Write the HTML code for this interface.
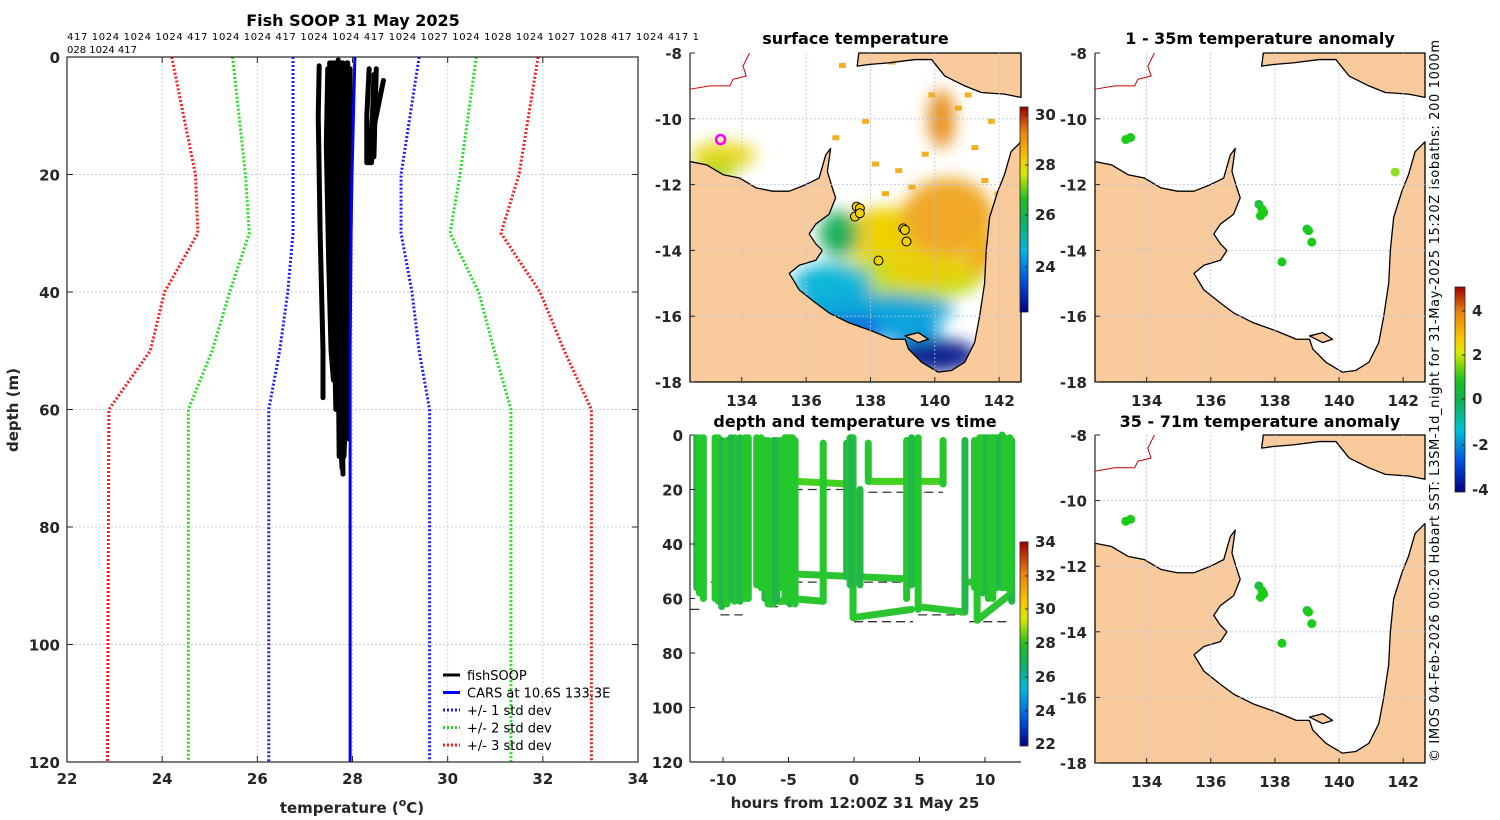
<!DOCTYPE html>
<html><head><meta charset="utf-8"><style>
html,body{margin:0;padding:0;background:#fff}
svg{display:block;font-family:"DejaVu Sans","Liberation Sans",sans-serif}
.tk{font-size:15px;font-weight:bold;fill:#262626}
.ttl{font-size:16px;font-weight:bold;fill:#000}
</style></head><body>
<svg id="fig" width="1500" height="820" viewBox="0 0 1500 820" xmlns="http://www.w3.org/2000/svg">
<defs>
<filter id="blur" x="-50%" y="-50%" width="200%" height="200%"><feGaussianBlur stdDeviation="8"/></filter>
<linearGradient id="cbSST" x1="0" y1="1" x2="0" y2="0">
<stop offset="0" stop-color="#000080"/><stop offset="0.15" stop-color="#0050e0"/><stop offset="0.3" stop-color="#00b8e0"/><stop offset="0.45" stop-color="#10b060"/><stop offset="0.55" stop-color="#20c020"/><stop offset="0.68" stop-color="#d8e800"/><stop offset="0.75" stop-color="#f8c800"/><stop offset="0.88" stop-color="#e88010"/><stop offset="1" stop-color="#a00000"/></linearGradient>
<linearGradient id="cbAn" x1="0" y1="1" x2="0" y2="0">
<stop offset="0" stop-color="#000080"/><stop offset="0.15" stop-color="#0050e0"/><stop offset="0.3" stop-color="#00c0d0"/><stop offset="0.45" stop-color="#10b050"/><stop offset="0.55" stop-color="#20c020"/><stop offset="0.68" stop-color="#d8e800"/><stop offset="0.75" stop-color="#f8c800"/><stop offset="0.88" stop-color="#e88010"/><stop offset="1" stop-color="#a00000"/></linearGradient>
<linearGradient id="cbT" x1="0" y1="1" x2="0" y2="0">
<stop offset="0" stop-color="#000080"/><stop offset="0.12" stop-color="#0050e0"/><stop offset="0.28" stop-color="#00b8e0"/><stop offset="0.4" stop-color="#10b060"/><stop offset="0.5" stop-color="#20c020"/><stop offset="0.62" stop-color="#d8e800"/><stop offset="0.7" stop-color="#f8c800"/><stop offset="0.85" stop-color="#e88010"/><stop offset="1" stop-color="#a00000"/></linearGradient>
<clipPath id="clipS"><rect x="690" y="53" width="331" height="329"/></clipPath>
</defs>
<g id="root"></g>
</svg>
<script>
// ---------- left profile chart data ----------
const depthLevels = [0, 20, 30, 40, 50, 60, 120];
const minus3 = [24.2, 24.7, 24.75, 24.05, 23.75, 22.88, 22.85];
const minus2 = [25.48, 25.75, 25.83, 25.42, 25.05, 24.55, 24.55];
const minus1 = [26.75, 26.75, 26.75, 26.64, 26.47, 26.24, 26.24];
const carsMean = [28.05, 27.99, 27.97, 27.96, 27.95, 27.95, 27.95];
const plus1 = [29.4, 29.02, 29.02, 29.25, 29.4, 29.62, 29.62];
const plus2 = [30.6, 30.26, 30.05, 30.65, 30.98, 31.33, 31.33];
const plus3 = [31.9, 31.5, 31.12, 31.94, 32.45, 33.02, 33.02];
const tempTicks = [22, 24, 26, 28, 30, 32, 34];
const depthTicks = [0, 20, 40, 60, 80, 100, 120];
const fishProfiles = [
 [[27.3,1.5],[27.28,10],[27.32,30],[27.38,50],[27.38,58]],
 [[27.48,2],[27.45,15],[27.5,35],[27.55,50],[27.6,55]],
 [[27.55,1],[27.55,20],[27.6,40],[27.65,60]],
 [[27.6,1],[27.65,20],[27.7,45],[27.75,65],[27.78,70]],
 [[27.7,0.5],[27.7,20],[27.72,40],[27.78,60],[27.8,71]],
 [[27.8,1],[27.78,20],[27.8,45],[27.85,62],[27.82,68]],
 [[27.9,1],[27.88,15],[27.85,30],[27.88,50],[27.9,65]],
 [[27.95,2],[27.95,20],[27.93,35],[27.9,45]],
 [[27.65,1],[27.6,10],[27.62,30],[27.7,50],[27.72,68]],
 [[27.75,1],[27.8,25],[27.75,50],[27.7,60]],
 [[27.85,2],[27.9,30],[27.85,55]],
 [[27.52,1],[27.58,25],[27.65,48]],
 [[27.88,1],[27.92,12],[27.95,28],[27.9,40]],
 [[28.35,2],[28.3,10],[28.3,18]],
 [[28.45,3],[28.42,10],[28.35,18]],
 [[28.65,4],[28.55,8],[28.45,12],[28.4,18]],
 [[28.5,2],[28.45,17]]
];
// ---------- time chart data ----------
const hourTicks = [-10, -5, 0, 5, 10];
const timeDepthTicks = [0, 20, 40, 60, 80, 100, 120];
const diveHours = [-12.0,-11.5,-10.36,-10.1,-9.7,-9.1,-8.7,-8.07,-7.43,-6.8,-6.56,-6.18,-5.9,-5.65,-5.27,-4.9,-4.5,-2.35,-0.56,-0.3,-0.07,0.46,1.09,4.02,4.4,4.9,6.8,8.47,9.4,9.6,9.87,10.25,10.6,10.9,11.3,11.76,12.04,
 -11.8,-10.6,-9.4,-8.3,-7.1,-6.0,-5.1,-4.7,-0.2,9.2,9.75,10.1,10.4,10.75,11.1,11.5,11.9];
const diveTops = [1,1,1,2,2,1,1,1,1,2,2,2,2,2,1,1,2,3,3,1,1,20,3,2,1,1,2,2,2,1,1,1,1,1,0,2,2,
 1,1,1,1,1,2,1,1,1,2,1,1,1,1,1,1,1];
const diveBottoms = [56,60,56,63,62,61,61,60,55,60,62,62,60,56,60,62,62,61,52,55,67,55,17,60,55,64,18,64,67,58,58,60,60,56,56,56,61,
 58,60,60,60,56,61,60,61,55,56,56,57,56,56,55,56,57];
const runStart = [-10.36,-6.56,-4.9,-4.5,-0.07,4.9,9.4,-4.5,1.09,8.5,10.2];
const runEnd = [-8.7,-5.27,-2.35,4.9,4.4,8.47,12.04,-0.3,6.8,10.9,12.0];
const runD0 = [61,61,60,51,67,63,68,17,17,54,53];
const runD1 = [60,61,61,53,64,65,58,18,17,54,54];
const refStart = [-12.5,-10.2,-6.5,-4.6,-12,-4.6,1.1,0,4.9,8.8,-0.3];
const refEnd = [-11.6,-8.5,-5.5,-2.3,-9,-0.3,6.8,4.5,8.5,12,4.5];
const refDepth = [64,66,63,54,54,20,21,68.5,66,68.5,54];
// ---------- map data (lon/lat) ----------
const shipLon = [137.57,137.67,137.52,137.67,139.02,139.07,139.12,138.25];
const shipLat = [-12.67,-12.72,-12.97,-12.87,-13.33,-13.38,-13.73,-14.31];
const anomLon1 = [133.35,133.5,137.5,137.6,137.55,137.65,139.0,139.05,139.15,138.22,141.75];
const anomLat1 = [-10.63,-10.57,-12.6,-12.75,-12.95,-12.85,-13.35,-13.4,-13.75,-14.35,-11.62];
const anomVal1 = [0.1,0.1,0.2,0.1,0.1,0.1,0.2,0.1,0.1,0,1.2];
const anomLon2 = [133.35,133.5,137.5,137.6,137.55,137.65,139.0,139.05,139.15,138.22];
const anomLat2 = [-10.63,-10.57,-12.6,-12.75,-12.95,-12.85,-13.35,-13.4,-13.75,-14.35];
const anomVal2 = [0.1,0.1,0.2,0.1,0.1,0.1,0.2,0.1,0.1,0];
const lonTicks = [134,136,138,140,142];
const latTicks = [-8,-10,-12,-14,-16,-18];

const NS = 'http://www.w3.org/2000/svg';
const root = document.getElementById('root');
function mk(tag, attrs, parent, txt){
  const e = document.createElementNS(NS, tag);
  for (const k in attrs) e.setAttribute(k, attrs[k]);
  if (txt !== undefined) e.textContent = txt;
  (parent || root).appendChild(e);
  return e;
}

// ================= LEFT PROFILE CHART =================
const L = {x0:67, x1:638, y0:57, y1:762};
const xT = t => L.x0 + (t-22)/(34-22)*(L.x1-L.x0);
const yD = d => L.y0 + d/120*(L.y1-L.y0);
const gL = mk('g', {});


mk('text', {x:353, y:26, 'text-anchor':'middle', class:'ttl', 'font-size':'17'}, gL, 'Fish SOOP 31 May 2025');
const h1 = mk('text', {x:67, y:40, 'font-size':'10', fill:'#000', textLength:'632'}, gL, '417 1024 1024 1024 417 1024 1024 417 1024 1024 417 1024 1027 1024 1028 1024 1027 1028 417 1024 417 1');


mk('text', {x:67, y:53, 'font-size':'10', fill:'#000'}, gL, '028 1024 417');
tempTicks.slice(1,-1).forEach(t => {
  mk('line', {x1:xT(t), x2:xT(t), y1:L.y0, y2:L.y1, stroke:'#c8cce8', 'stroke-dasharray':'2,2', 'stroke-width':1}, gL);
});
depthTicks.slice(1,-1).forEach(d => {
  mk('line', {x1:L.x0, x2:L.x1, y1:yD(d), y2:yD(d), stroke:'#c8cce8', 'stroke-dasharray':'2,2', 'stroke-width':1}, gL);
});
function profLine(arr, color, dashed, name){
  const pts = arr.map((t,i) => xT(t)+','+yD(depthLevels[i])).join(' ');
  const e = mk('polyline', {points:pts, fill:'none', stroke:color, 'stroke-width':3, 'stroke-dasharray': dashed?'2,2':'none'}, gL);
  
  
}
profLine(minus3, '#ff1a1a', true, 'minus-3-std-line');
profLine(minus2, '#22dd22', true, 'minus-2-std-line');
profLine(minus1, '#1a1aff', true, 'minus-1-std-line');
profLine(plus1, '#1a1aff', true, 'plus-1-std-line');
profLine(plus2, '#22dd22', true, 'plus-2-std-line');
profLine(plus3, '#ff1a1a', true, 'plus-3-std-line');
fishProfiles.forEach((p,i) => {
  const e = mk('polyline', {points:p.map(q => xT(q[0])+','+yD(q[1])).join(' '), fill:'none', stroke:'#000', 'stroke-width':5, 'stroke-linejoin':'round', 'stroke-linecap':'round'}, gL);
  
  
});
profLine(carsMean, '#0000ff', false, 'cars-mean-line');
mk('rect', {x:L.x0, y:L.y0, width:L.x1-L.x0, height:L.y1-L.y0, fill:'none', stroke:'#262626', 'stroke-width':1.2}, gL);
tempTicks.forEach(t => {
  mk('line', {x1:xT(t), x2:xT(t), y1:L.y1, y2:L.y1-6, stroke:'#262626'}, gL);
  mk('line', {x1:xT(t), x2:xT(t), y1:L.y0, y2:L.y0+6, stroke:'#262626'}, gL);
  const e = mk('text', {x:xT(t), y:784, 'text-anchor':'middle', class:'tk'}, gL, t);
  
  
});
depthTicks.forEach(d => {
  mk('line', {x1:L.x0, x2:L.x0+6, y1:yD(d), y2:yD(d), stroke:'#262626'}, gL);
  mk('line', {x1:L.x1, x2:L.x1-6, y1:yD(d), y2:yD(d), stroke:'#262626'}, gL);
  const e = mk('text', {x:60, y:yD(d)+6, 'text-anchor':'end', class:'tk'}, gL, d);
  
  
});
const xt = mk('text', {x:352, y:813, 'text-anchor':'middle', class:'tk', 'font-size':'16'}, gL);


xt.innerHTML = 'temperature (<tspan dy="-7" font-size="11">o</tspan><tspan dy="7">C)</tspan>';
const yt = mk('text', {x:18, y:410, 'text-anchor':'middle', class:'tk', 'font-size':'16', transform:'rotate(-90 18 410)'}, gL, 'depth (m)');


const legItems = [['fishSOOP','#000',false],['CARS at 10.6S 133.3E','#0000ff',false],['+/- 1 std dev','#1a1aff',true],['+/- 2 std dev','#22dd22',true],['+/- 3 std dev','#ff1a1a',true]];
legItems.forEach((it,i) => {
  const y = 675 + i*17.5;
  const g = mk('g', {}, gL);
  
  
  mk('line', {x1:443, x2:460, y1:y, y2:y, stroke:it[1], 'stroke-width':3, 'stroke-dasharray': it[2]?'2,2':'none'}, g);
  mk('text', {x:467, y:y+5, 'font-size':'13', fill:'#000'}, g, it[0]);
});

// ================= MAPS =================
const ausLand = [[0,0.33],[0.05,0.34],[0.1,0.37],[0.15,0.38],[0.2,0.41],[0.25,0.42],[0.3,0.42],[0.35,0.40],[0.39,0.38],[0.41,0.31],[0.425,0.29],[0.415,0.36],[0.43,0.41],[0.44,0.44],[0.42,0.49],[0.38,0.52],[0.36,0.55],[0.38,0.58],[0.4,0.6],[0.38,0.63],[0.33,0.645],[0.3,0.67],[0.33,0.72],[0.38,0.76],[0.42,0.79],[0.48,0.82],[0.55,0.845],[0.61,0.87],[0.65,0.87],[0.66,0.9],[0.7,0.94],[0.75,0.97],[0.79,0.965],[0.83,0.94],[0.86,0.88],[0.875,0.8],[0.89,0.7],[0.895,0.6],[0.905,0.5],[0.93,0.42],[0.95,0.37],[0.97,0.30],[1,0.27],[1,1],[0,1]];
const ngLand = [[0.51,0],[0.505,0.04],[0.54,0.035],[0.6,0.03],[0.68,0.02],[0.73,0.02],[0.77,0.07],[0.83,0.1],[0.88,0.12],[0.95,0.125],[1,0.135],[1,0]];
const islandA = [[0.65,0.86],[0.69,0.85],[0.72,0.87],[0.69,0.88]];
const LON0 = 132.39, LON1 = 142.68;
function drawMap(box, name, title, titleY){
  const g = mk('g', {});
  
  
  const fx = f => box.x + f*box.w, fy = f => box.y + f*box.h;
  const px = lon => box.x + (lon-LON0)/(LON1-LON0)*box.w;
  const py = lat => box.y + (-8-lat)/10*box.h;
  mk('rect', {x:box.x, y:box.y, width:box.w, height:box.h, fill:'#fff'}, g);
  const seaG = mk('g', {}, g);
  const landG = mk('g', {}, g);
  [ausLand, ngLand, islandA].forEach((poly,i) => {
    const e = mk('polygon', {points:poly.map(p => fx(p[0])+','+fy(p[1])).join(' '), fill:'#f9cb9c', stroke:'#000', 'stroke-width':1.3, 'stroke-linejoin':'round'}, landG);
    
    
  });
  lonTicks.forEach(l => mk('line', {x1:px(l), x2:px(l), y1:box.y, y2:box.y+box.h, stroke:'#b8c0e8', 'stroke-dasharray':'2,2', 'stroke-width':0.8}, g));
  latTicks.slice(1,-1).forEach(l => mk('line', {x1:box.x, x2:box.x+box.w, y1:py(l), y2:py(l), stroke:'#b8c0e8', 'stroke-dasharray':'2,2', 'stroke-width':0.8}, g));
  mk('polyline', {points:[[0.18,0],[0.16,0.04],[0.17,0.07],[0.13,0.08],[0.12,0.1],[0.06,0.1],[0,0.11]].map(p=>fx(p[0])+','+fy(p[1])).join(' '), fill:'none', stroke:'#cc0000', 'stroke-width':1}, g);
  mk('line', {x1:box.x, x2:box.x, y1:box.y, y2:box.y+box.h, stroke:'#262626', 'stroke-width':1.2}, g);
  lonTicks.forEach(l => {
    mk('line', {x1:px(l), x2:px(l), y1:box.y+box.h, y2:box.y+box.h-5, stroke:'#262626'}, g);
    const t = mk('text', {x:px(l), y:box.y+box.h+24, 'text-anchor':'middle', class:'tk'}, g, l);
    
    
  });
  latTicks.forEach(l => {
    mk('line', {x1:box.x, x2:box.x+5, y1:py(l), y2:py(l), stroke:'#262626'}, g);
    const t = mk('text', {x:box.x-8, y:py(l)+6, 'text-anchor':'end', class:'tk'}, g, l);
    
    
  });
  const tt = mk('text', {x:box.x+box.w/2, y:titleY, 'text-anchor':'middle', class:'ttl'}, g, title);
  
  
  return {g, seaG, px, py, fx, fy};
}
const S = drawMap({x:690,y:53,w:331,h:329}, 'surface-temperature-map', 'surface temperature', 44);
const blobs = [
 [0.62,0.55,0.2,0.08,'#f0d000'],
 [0.78,0.5,0.14,0.12,'#f0a828'],
 [0.76,0.2,0.04,0.09,'#e8901a'],
 [0.1,0.31,0.1,0.04,'#e8d820'],
 [0.08,0.36,0.06,0.03,'#a8d820'],
 [0.45,0.55,0.06,0.07,'#20b060'],
 [0.62,0.69,0.26,0.07,'#c0e020'],
 [0.72,0.66,0.14,0.05,'#e8d010'],
 [0.43,0.7,0.12,0.06,'#10b8d8'],
 [0.55,0.78,0.25,0.05,'#10a8d8'],
 [0.5,0.84,0.16,0.035,'#1060e0'],
 [0.74,0.92,0.13,0.05,'#102090'],
 [0.66,0.84,0.1,0.04,'#10a0e0'],
 [0.88,0.6,0.05,0.08,'#f0b020']
];
const bg = mk('g', {'clip-path':'url(#clipS)'}, S.seaG);
const bgb = mk('g', {filter:'url(#blur)'}, bg);
blobs.forEach(b => mk('ellipse', {cx:S.fx(b[0]), cy:S.fy(b[1]), rx:b[2]*331, ry:b[3]*329, fill:b[4]}, bgb));
[[0.43,0.25],[0.55,0.33],[0.62,0.35],[0.66,0.4],[0.85,0.28],[0.88,0.38],[0.6,0.02],[0.45,0.03],[0.72,0.12],[0.83,0.12],[0.52,0.2],[0.8,0.16],[0.9,0.2],[0.7,0.3],[0.58,0.42],[0.92,0.42]].forEach(p =>
  mk('rect', {x:S.fx(p[0]), y:S.fy(p[1]), width:7, height:5, fill:'#f2b020'}, bg));
shipLon.forEach((lon,i) => {
  const c = mk('circle', {cx:S.px(lon), cy:S.py(shipLat[i]), r:4.5, fill:'#f0d000', stroke:'#000', 'stroke-width':1}, S.g);
  
  
});
const mg = mk('circle', {cx:S.px(133.34), cy:S.py(-10.63), r:4.5, fill:'none', stroke:'#ff00ff', 'stroke-width':2.5}, S.g);



function anomColor(v){ return v > 0.8 ? '#90e020' : (v > 0.15 ? '#20c040' : '#18cc18'); }
const A1 = drawMap({x:1095,y:53,w:330,h:329}, 'anomaly-map-1-35m', '1 - 35m temperature anomaly', 44);
anomLon1.forEach((lon,i) => {
  const c = mk('circle', {cx:A1.px(lon), cy:A1.py(anomLat1[i]), r:4.5, fill:anomColor(anomVal1[i])}, A1.g);
  
  
});
const A2 = drawMap({x:1095,y:435,w:330,h:328}, 'anomaly-map-35-71m', '35 - 71m temperature anomaly', 427);
anomLon2.forEach((lon,i) => {
  const c = mk('circle', {cx:A2.px(lon), cy:A2.py(anomLat2[i]), r:4.5, fill:anomColor(anomVal2[i])}, A2.g);
  
  
});
function colorbar(x,y,w,h,grad,ticks,ty,name){
  const g = mk('g', {});
  
  
  mk('rect', {x, y, width:w, height:h, fill:'url(#'+grad+')', stroke:'#262626', 'stroke-width':0.8}, g);
  ticks.forEach((t,i) => {
    mk('line', {x1:x+w-3, x2:x+w, y1:ty[i], y2:ty[i], stroke:'#262626'}, g);
    mk('text', {x:x+w+7, y:ty[i]+5, class:'tk', 'font-size':'13'}, g, t);
  });
}
colorbar(1020,107,8,205,'cbSST',[30,28,26,24],[115,165,215,267],'sst-colorbar');
colorbar(1455,287,10,205,'cbAn',[4,2,0,-2,-4],[311,355,399,445,490],'anomaly-colorbar');
colorbar(1020,542,8,204,'cbT',[34,32,30,28,26,24,22],[542,576,609,643,677,711,744],'time-colorbar');

// ================= DEPTH VS TIME =================
const T = {x0:690, x1:1021, y0:435, y1:762};
const xH = h => 854 + h*13.1;
const yTD = d => T.y0 + d/120*(T.y1-T.y0);
const gT = mk('g', {});


mk('text', {x:855, y:427, 'text-anchor':'middle', class:'ttl'}, gT, 'depth and temperature vs time');
refStart.forEach((s,i) => {
  const e = mk('line', {x1:xH(s), x2:xH(refEnd[i]), y1:yTD(refDepth[i]), y2:yTD(refDepth[i]), stroke:'#333', 'stroke-width':1.3, 'stroke-dasharray':'9,5'}, gT);
  
  
});
runStart.forEach((s,i) => {
  const e = mk('line', {x1:xH(s), x2:xH(runEnd[i]), y1:yTD(runD0[i]), y2:yTD(runD1[i]), stroke: i==7||i==8?'#44d020':'#2cc430', 'stroke-width':7, 'stroke-linecap':'round'}, gT);
  
  
});
diveHours.forEach((h,i) => {
  const e = mk('line', {x1:xH(h), x2:xH(h), y1:yTD(diveTops[i]), y2:yTD(diveBottoms[i]), stroke: i%3==0?'#22b848':'#24c82c', 'stroke-width':7, 'stroke-linecap':'round'}, gT);
  
  
});
mk('line', {x1:T.x0, x2:T.x0, y1:T.y0, y2:T.y1, stroke:'#262626', 'stroke-width':1.2}, gT);
mk('line', {x1:T.x0, x2:T.x1, y1:T.y1, y2:T.y1, stroke:'#262626', 'stroke-width':1.2}, gT);
hourTicks.forEach(h => {
  mk('line', {x1:xH(h), x2:xH(h), y1:T.y1, y2:T.y1-5, stroke:'#262626'}, gT);
  const e = mk('text', {x:xH(h), y:785, 'text-anchor':'middle', class:'tk'}, gT, h);
  
  
});
timeDepthTicks.forEach(d => {
  mk('line', {x1:T.x0, x2:T.x0+5, y1:yTD(d), y2:yTD(d), stroke:'#262626'}, gT);
  const e = mk('text', {x:683, y:yTD(d)+6, 'text-anchor':'end', class:'tk'}, gT, d);
  
  
});
const ht = mk('text', {x:855, y:808, 'text-anchor':'middle', class:'tk', 'font-size':'16'}, gT, 'hours from 12:00Z 31 May 25');



const cr = mk('text', {x:1439, y:762, 'font-size':'13', fill:'#000', transform:'rotate(-90 1439 762)'}, root, '\u00a9 IMOS 04-Feb-2026 00:20 Hobart SST: L3SM-1d_night for 31-May-2025 15:20Z isobaths: 200  1000m');


cr.setAttribute('textLength', '722');
</script>
</body></html>
